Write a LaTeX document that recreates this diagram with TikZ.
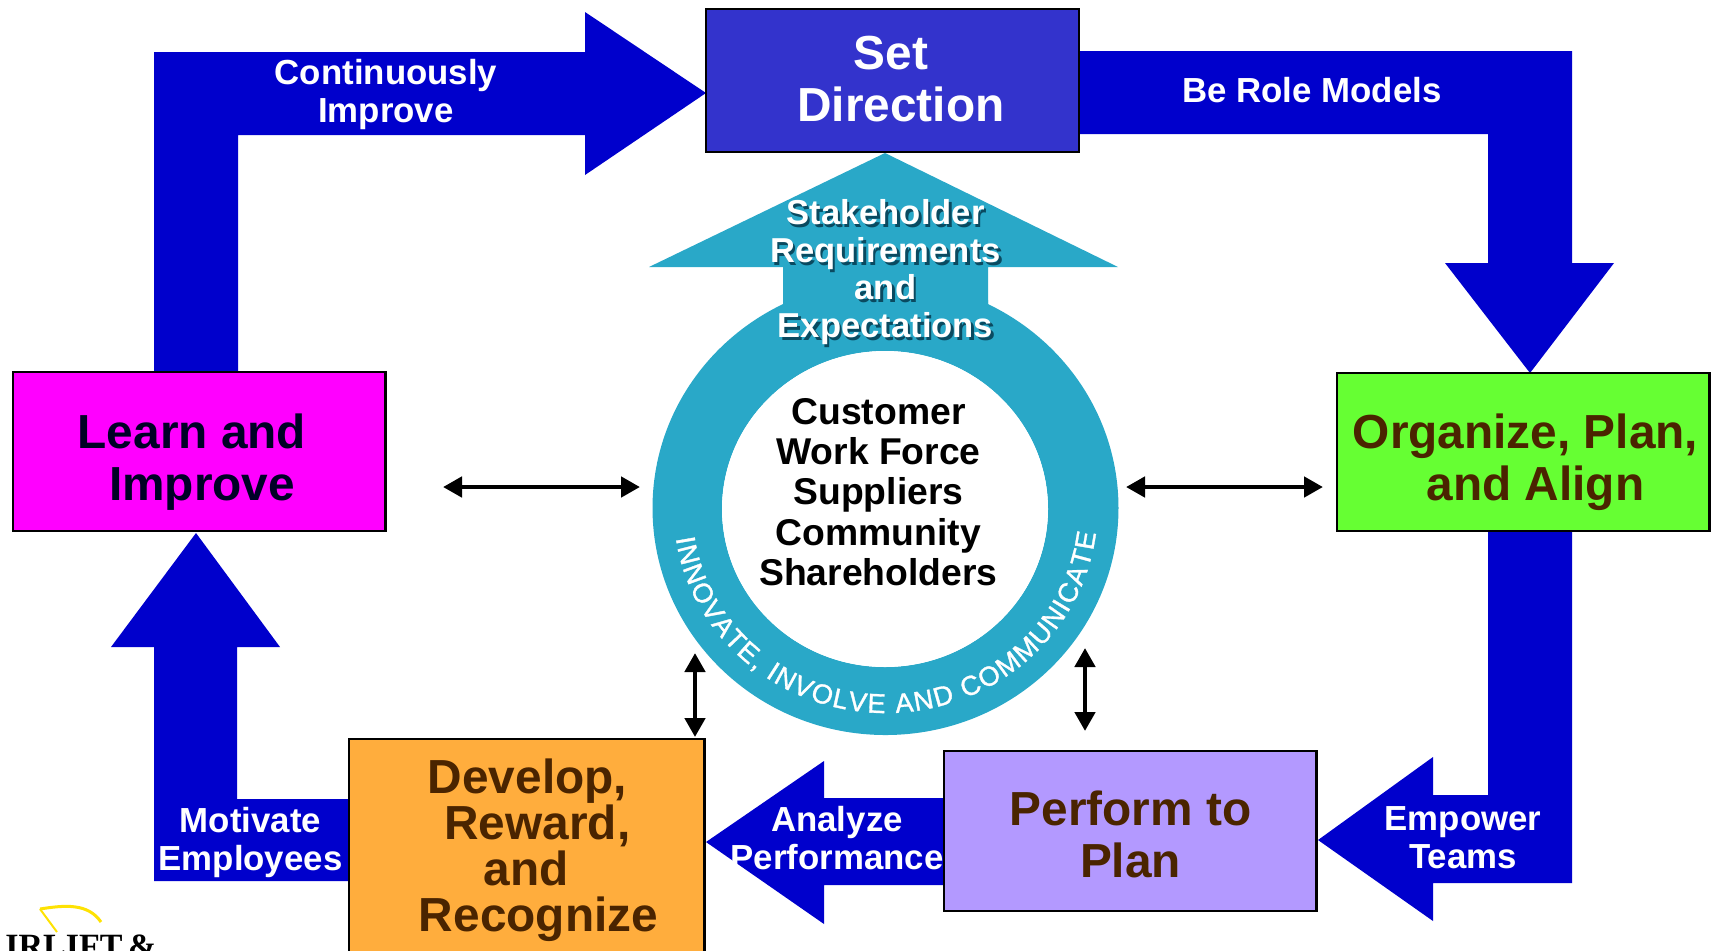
\documentclass[tikz,border=0pt]{standalone}
\usepackage{fontspec}
\setmainfont{Liberation Sans}
\newfontfamily\logofont{Liberation Serif}
\newfontfamily\ringfont[FakeBold=1.2]{Liberation Sans}
\usetikzlibrary{arrows.meta,decorations.text}
\definecolor{bluearrow}{HTML}{0000CC}
\definecolor{setfill}{HTML}{3333CC}
\definecolor{learnfill}{HTML}{FF00FF}
\definecolor{orgfill}{HTML}{66FF33}
\definecolor{devfill}{HTML}{FFAD3D}
\definecolor{perffill}{HTML}{B399FF}
\definecolor{teal}{HTML}{29A8C8}
\definecolor{brownink}{HTML}{4A2400}
\definecolor{shadowink}{HTML}{0A4A60}
\tikzset{
  x=.5pt,y=-.5pt,
  procbox/.style={draw=black,line width=1.4pt},
  bigtext/.style={font=\fontsize{23.9}{26}\selectfont\bfseries,align=center,inner sep=0pt},
  arrowtext/.style={font=\fontsize{17.4}{19}\selectfont\bfseries,align=center,text=white,inner sep=0pt},
  listtext/.style={font=\fontsize{18.65}{20.2}\selectfont\bfseries,align=center,inner sep=0pt},
  stakeshadow/.style={font=\fontsize{17.3}{18.9}\selectfont\bfseries,align=center,inner sep=0pt},
  bluearrowshape/.style={fill=bluearrow,draw=none},
  dbl/.style={line width=2.3pt,{Triangle[length=9.5pt,width=10pt]}-{Triangle[length=9.5pt,width=10pt]}}
}
\begin{document}
\begin{tikzpicture}
\useasboundingbox (0,0) rectangle (1714,950);
\clip (0,0) rectangle (1714,950);
% blue arrows
\fill[bluearrowshape] (154,52)--(585,52)--(585,12)--(706,93)--(585,175)--(585,135)--(238,135)--(238,372)--(154,372)--cycle;
\fill[bluearrowshape] (1080,51)--(1572,51)--(1572,263)--(1614,263)--(1530,373)--(1445,263)--(1488,263)--(1488,134)--(1080,134)--cycle;
\fill[bluearrowshape] (1488,531)--(1572,531)--(1572,883)--(1433,883)--(1433,921)--(1318,840)--(1433,757)--(1433,795)--(1488,795)--cycle;
\fill[bluearrowshape] (944,798)--(824,798)--(824,761)--(706,842)--(824,924)--(824,885)--(944,885)--cycle;
\fill[bluearrowshape] (349,799)--(237,799)--(237,647)--(280,647)--(196,533)--(111,647)--(154,647)--(154,881)--(349,881)--cycle;
% boxes
\draw[procbox,fill=setfill] (706,9) rectangle (1079,152);
\draw[procbox,fill=learnfill] (13,372) rectangle (385.5,531);
\draw[procbox,fill=orgfill] (1337,373) rectangle (1709.5,531);
\draw[procbox,fill=devfill] (349,739) rectangle (704.5,960);
\draw[procbox,fill=perffill] (944,751) rectangle (1316.5,911);
% ring and up arrow
\fill[teal,even odd rule] (885.5,508) ellipse [x radius=233,y radius=227] (885,509) ellipse [x radius=163,y radius=158];
\fill[teal] (885,153)--(1118,267)--(988,267)--(988,306)--(885,320)--(783,306)--(783,267)--(649,267)--cycle;
\fill[teal] (783,300)--(988,300)--(988,330) .. controls (940,345) and (830,345) .. (783,330)--cycle;
\fill[white] (885,509) ellipse [x radius=163,y radius=158];
% ring text
\path[x=.5pt,y=.5pt,postaction={decorate},decoration={text along path,text align=fit to path,
  text={|\ringfont\fontsize{13.6}{16}\selectfont\color{white}|INNOVATE, INVOLVE AND COMMUNICATE}}]
  (885.5,-508) ++(188.5:212 and 205) arc (188.5:353:212 and 205);
% labels
\node[bigtext,text=white] (setl) at (891,79.5) {Set\\\hspace*{10pt}Direction};
\node[bigtext,text=black!85!blue] (learnl) at (192,462.5) {Learn and\\\hspace*{10pt}Improve};
\node[bigtext,text=brownink] (orgl) at (1525.5,462.5) {Organize, Plan,\\\hspace*{10pt}and Align};
\node[bigtext,text=brownink,font=\fontsize{23.9}{23}\selectfont\bfseries] (devl) at (533,850) {\hspace*{-5.5pt}Develop,\\\hspace*{4.4pt}Reward,\\\hspace*{-6.6pt}and\\\hspace*{5.5pt}Recognize};
\node[bigtext,text=brownink] (perfl) at (1130.5,834) {Perform to\\Plan};
\node[arrowtext] (contl) at (386,94.5) {Continuously\\Improve};
\node[arrowtext] (rolel) at (1312,90) {Be Role Models};
\node[arrowtext] (empl) at (1463,838) {Empower\\Teams};
\node[arrowtext] (anal) at (837,838) {Analyze\\Performance};
\node[arrowtext] (motl) at (250.5,842) {Motivate\\Employees};
\node[listtext,text=black] (listl) at (878.5,492) {Customer\\Work Force\\Suppliers\\Community\\Shareholders};
\node[stakeshadow,text=shadowink] (stakes) at (888,275) {Stakeholder\\Requirements\\and\\Expectations};
\node[stakeshadow,text=white] (stakel) at (885.5,272) {Stakeholder\\Requirements\\and\\Expectations};
% black double arrows
\coordinate (lA) at (443,487); \coordinate (lB) at (640,487);
\coordinate (rA) at (1126,487); \coordinate (rB) at (1323,487);
\coordinate (vA) at (695,653); \coordinate (vB) at (695,737);
\coordinate (wA) at (1085,648); \coordinate (wB) at (1085,731);
\draw[dbl] (lA) -- (lB);
\draw[dbl] (rA) -- (rB);
\draw[dbl] (vA) -- (vB);
\draw[dbl] (wA) -- (wB);
% logo fragment
\draw[yellow!85!orange,line width=1.5pt] (40,909) .. controls (65,905) and (88,903) .. (101,922);
\draw[yellow!85!orange,line width=1pt] (40,909) -- (57,932);
\node[anchor=base west,inner sep=0pt,font=\logofont\fontsize{17}{17}\selectfont\bfseries] (logo) at (5,957) {IRLIFT\,\&};
\end{tikzpicture}
\end{document}
